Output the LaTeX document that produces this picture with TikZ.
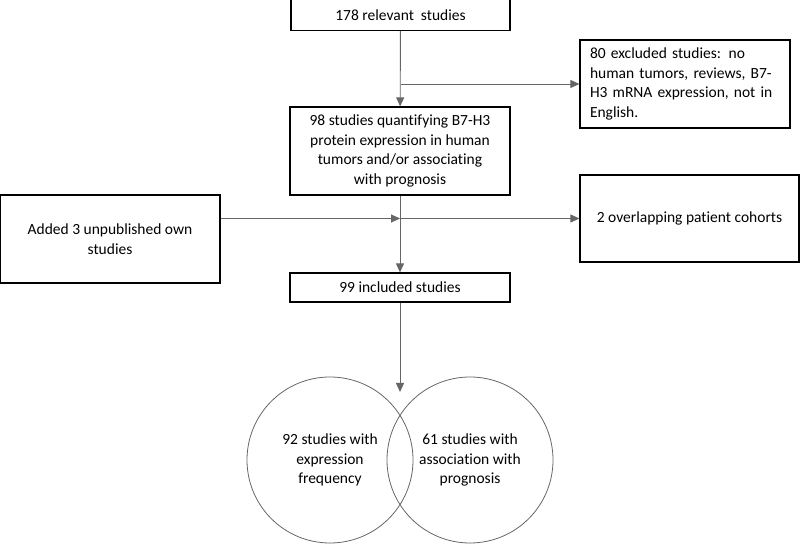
\documentclass[tikz,border=0pt]{standalone}
\usepackage{fontspec}
\setmainfont[Ligatures=NoCommon]{Carlito}
\usetikzlibrary{positioning, arrows.meta}
\tikzstyle{arrow} = [draw=black!60,line width=0.9pt,-{Triangle[length=9pt,width=8pt]}]

\begin{document}
\begin{tikzpicture}[x=1pt,y=1pt,auto,
			main node/.style={rectangle, minimum width=220pt, minimum height=88pt, align=center, draw=black, line width=1.2pt, inner sep=0pt, font=\fontsize{15.5}{19.5}\selectfont},
			set/.style={circle, minimum size=166pt, draw=black!60, line width=0.8pt, align=center, inner sep=0pt, font=\fontsize{15.5}{19.5}\selectfont}]
			\useasboundingbox (0,0) rectangle (800,545);
			
			\node[main node,minimum width=219pt,minimum height=31pt] (rel) at (400.5,530) {178 relevant\ \ studies};
			
			\node[main node] (quant) at (400,394) {98 studies quantifying B7-H3\\protein expression in human\\tumors and/or associating\\with prognosis};
			
			\node[main node,minimum width=210pt,align=left,text width=190pt] (excl) at (685,461) {80 excluded studies: no\\human tumors, reviews, B7-\\H3 mRNA expression, not in\\English.};
			
			\node[main node] (added) at (110,306) {Added 3 unpublished own\\studies};
			
			\node[main node,minimum width=219pt,minimum height=87pt] (over) at (689.5,326.5) {2 overlapping patient cohorts};
			
			\node[main node,minimum height=29pt] (incl) at (400,257.5) {99 included studies};
			
			\node[set] (expr) at (330,85) {92 studies with\\expression\\frequency};
			\node[set] (prog) at (470,85) {61 studies with\\association with\\prognosis};
			
			\coordinate (b1) at (rel.south |- excl.west);
			\coordinate (b2) at (quant.south |- over.west);
			\coordinate (tip) at (400,153);
			
			\draw[arrow] (rel) -- (quant);
			\draw[arrow] (b1) -- (excl);
			
			\draw[arrow] (added.east |- b2) -- (b2);
			\draw[arrow] (b2) -- (over);
			\draw[arrow] (quant) -- (incl);
			
			\draw[arrow] (incl) -- (tip);
			
			\end{tikzpicture}
\end{document}
